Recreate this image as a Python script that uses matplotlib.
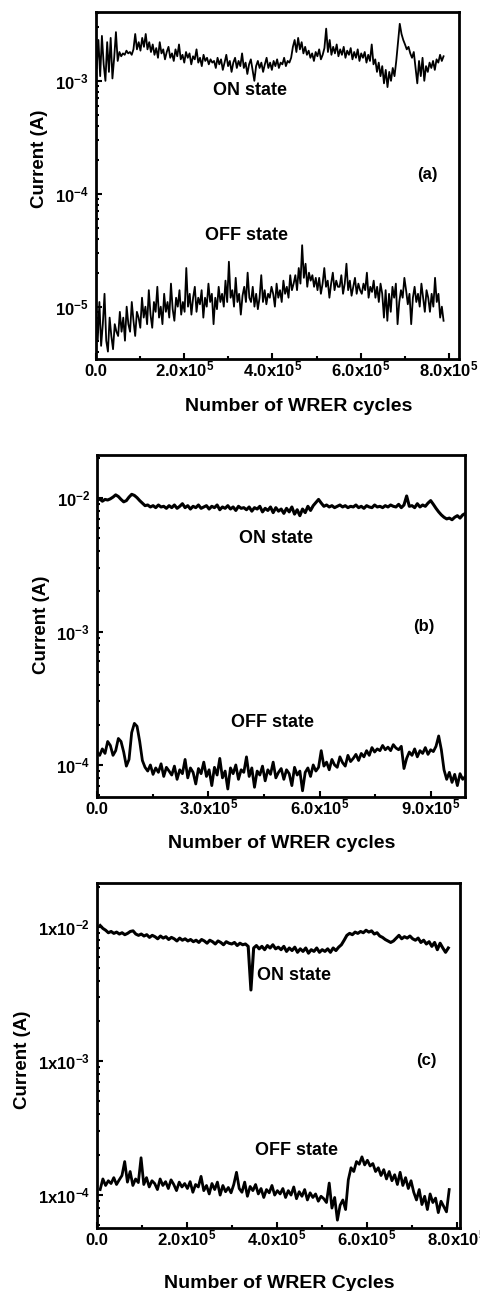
import numpy as np
import matplotlib
matplotlib.use('Agg')
import matplotlib.pyplot as plt
from matplotlib.ticker import LogLocator, NullFormatter

plt.rcParams['font.family'] = ['Liberation Sans', 'DejaVu Sans']
plt.rcParams['font.weight'] = 'bold'
plt.rcParams['mathtext.fontset'] = 'custom'
plt.rcParams['mathtext.rm'] = 'Liberation Sans:bold'
plt.rcParams['mathtext.it'] = 'Liberation Sans:bold'
plt.rcParams['mathtext.bf'] = 'Liberation Sans:bold'
plt.rcParams['mathtext.default'] = 'rm'

# ---- panel (a): currents in mA (ON) and uA (OFF) ----
a_on_span = (0.015e5, 7.88e5)
a_on_mA = [1.3, 2.3, 1.1, 2.5, 1.4, 1.0, 2.2, 1.2, 2.4, 1.05, 1.6,
           2.7, 1.5, 1.8, 1.65, 1.75, 1.7, 1.85, 1.75, 1.8, 1.7, 1.9,
           2.6, 1.9, 2.2, 1.85, 2.4, 2.0, 2.6, 1.9, 2.2,
           1.8, 2.1, 1.7, 1.95, 1.6, 2.2, 1.75, 1.9, 1.55, 1.8, 2.0, 1.6, 1.75, 1.5, 1.9, 1.65, 2.1, 1.55,
           1.7, 1.45, 1.8, 1.6, 1.75, 1.4, 1.65, 1.55, 1.9, 1.45, 1.6, 1.35, 1.7, 1.5, 1.6, 1.4, 1.55, 1.45,
           1.5, 1.3, 1.6, 1.4, 1.55, 1.25, 1.45, 1.7, 1.35, 1.5, 1.2, 1.45, 1.6, 1.3, 1.5, 1.35, 1.75, 1.3,
           1.45, 1.15, 1.4, 1.55, 1.25, 1.0, 1.35, 1.5, 1.3, 1.45, 1.2, 1.4, 1.6, 1.3, 1.45, 1.25, 1.5, 1.35,
           1.55, 1.3, 1.45, 1.4, 1.6, 1.35, 1.5, 1.45,
           1.6, 2.0, 2.3, 1.8, 2.4, 1.9, 2.2, 1.75, 2.0, 1.7,
           1.85, 1.6, 1.75, 1.5, 1.8, 1.65, 1.9, 1.55, 1.7, 1.95, 2.9,
           1.8, 2.3, 1.7, 2.0, 1.75, 2.1, 1.65, 1.9, 1.7, 2.0, 1.6, 1.85, 1.7, 1.95, 1.55, 1.8, 1.6, 1.9,
           1.5, 1.75, 1.6, 1.8, 1.45, 1.7, 1.5, 2.1, 1.4,
           1.55, 1.2, 1.45, 1.1, 1.35, 0.95, 1.25, 0.88, 1.2, 1.0, 1.3, 1.1, 1.5,
           2.2, 3.2, 2.6, 2.3, 2.1, 1.9, 2.0, 1.75, 1.6, 1.8,
           1.3, 0.95, 1.5, 1.1, 1.6, 1.0, 1.35, 1.2, 1.45, 1.3, 1.5, 1.25, 1.55, 1.45, 1.7, 1.5, 1.65]
a_off_span = (0.0, 7.88e5)
a_off_uA = [9, 5, 11, 4.5, 7, 13, 5, 4, 8, 5.5, 4.2, 7, 6,
            5.5, 9, 6, 8, 5, 10, 7, 6, 11, 7.5, 5.5, 9, 8,
            6.5, 12, 8, 10, 7, 14, 8.5, 6.5, 11, 9, 15, 8, 10,
            7, 13, 9, 11, 8, 16, 9.5, 7.5, 12, 10, 14, 8.5, 11,
            9, 22, 10, 13, 8.5, 12, 15, 9, 12, 10.5, 14, 8, 12,
            10, 16, 11, 13, 7, 12, 9.5, 15, 11, 13, 10, 17, 11,
            25, 12, 14, 10, 18, 11, 13, 8.5, 12.5, 15, 11, 20, 12,
            11, 15, 10, 13, 9.5, 12, 19, 11, 14, 10.5, 13, 12, 15,
            13, 10, 16, 12, 14, 11, 17, 13, 15, 12, 19, 14, 16,
            19, 14, 22, 16, 35, 18, 24, 15, 20, 17, 19, 15, 18,
            14, 18, 13, 16, 22, 15, 17, 12, 16, 20, 14, 17, 15,
            15, 19, 13, 16, 24, 14, 17, 12.5, 15, 18, 13, 16, 14,
            13, 16, 14, 20, 12, 15, 13.5, 17, 12, 15, 11, 16, 13,
            8, 14, 7.5, 13, 9, 15, 12, 16, 7, 11, 14, 12, 18,
            14, 10.5, 13, 7, 12, 15, 11, 13, 10, 16, 12, 9, 14,
            12, 9, 13, 10, 18, 11, 13, 8, 10, 7.5]

# ---- panel (b) ----
b_on_span = (0.0, 9.93e5)
b_on_mA = [9.6, 9.9, 9.5, 9.8, 9.7, 9.9, 10.2, 10.6, 10.3, 9.8, 9.4, 9.6, 10.2, 10.7,
           10.5, 10.1, 9.6, 9.2, 8.8, 8.9, 8.6, 8.8, 8.5, 8.9, 8.6, 8.7, 8.4, 8.8,
           8.5, 8.9, 8.4, 8.7, 9.1, 8.5, 8.8, 8.3, 8.7, 8.5, 8.9, 8.4, 8.6, 8.8,
           8.3, 8.7, 8.5, 8.9, 8.2, 8.6, 8.4, 8.8, 8.3, 8.6, 8.1, 8.7, 8.4, 8.5,
           8.2, 8.6, 8.0, 8.5, 8.3, 8.7, 7.9, 8.4, 8.1, 8.6, 7.8, 8.5, 8.0, 8.3,
           7.7, 8.4, 7.9, 8.6, 7.6, 8.2, 7.4, 8.3, 7.8, 8.7, 8.1, 8.8, 9.3, 9.8,
           9.2, 8.7, 8.9, 8.6, 8.8, 8.5, 8.7, 8.9, 8.6, 8.8, 8.5, 8.7, 8.6, 8.9,
           8.5, 8.7, 8.4, 8.8, 8.6, 8.5, 8.9, 8.6, 8.7, 8.5, 8.8, 8.6, 8.9, 8.7,
           8.6, 9.0, 8.5, 8.9, 10.4, 8.7, 8.8, 8.5, 9.1, 8.6, 8.9, 8.7, 9.2, 9.6,
           9.0, 8.4, 7.9, 7.5, 7.2, 7.0, 7.1, 6.9, 7.2, 7.4, 7.1, 7.5, 7.7]
b_off_span = (0.0, 9.93e5)
b_off_uA = [125, 118, 132, 122, 150, 140, 118, 128, 158, 150, 125, 98, 110, 175,
            205, 195, 150, 108, 96, 90, 100, 85, 95, 88, 102, 82, 96, 90,
            84, 98, 78, 92, 86, 110, 80, 95, 88, 72, 94, 86, 105, 82,
            92, 70, 96, 84, 112, 80, 90, 66, 95, 86, 100, 78, 92, 88,
            115, 82, 95, 68, 90, 84, 98, 76, 92, 85, 105, 80, 88, 94,
            78, 92, 86, 70, 96, 84, 90, 64, 88, 95, 82, 100, 90, 96,
            128, 98, 105, 92, 110, 100, 96, 115, 104, 98, 118, 106, 112, 120,
            108, 122, 115, 128, 118, 135, 125, 132, 128, 140, 130, 136, 128, 142,
            134, 130, 138, 94, 112, 125, 118, 132, 115, 128, 122, 135, 120, 130,
            126, 138, 165, 130, 92, 78, 88, 74, 85, 70, 86, 78, 82]

# ---- panel (c) ----
c_on_span = (0.07e5, 7.81e5)
c_on_mA = [10.3, 9.8, 9.5, 9.1, 9.3, 9.0, 9.2, 8.9, 9.1, 8.8, 9.0, 9.3, 9.4, 8.9, 8.7,
           8.9, 8.6, 8.8, 8.4, 8.7, 8.5, 8.2, 8.6, 8.3, 8.5, 8.1, 8.4, 8.2, 7.9, 8.3, 8.0, 8.2,
           7.9, 8.1, 7.8, 8.0, 7.7, 8.1, 7.9, 7.6, 8.0, 7.8, 7.5, 7.9, 7.7, 7.4, 7.8, 7.6, 7.5,
           7.7, 7.3, 7.6, 7.4, 7.5, 7.2,
           3.4,
           7.0, 7.3, 6.9, 7.2, 6.8, 7.3, 7.0, 7.4, 6.9, 7.1,
           6.8, 7.2, 6.6, 7.0, 6.7, 7.1, 6.5, 6.9, 6.6, 7.0, 6.4, 6.8, 6.6, 7.0, 6.5, 6.8, 6.6,
           6.9, 6.5, 7.0, 6.7, 7.1,
           7.4, 8.0, 8.7, 9.0, 8.8, 9.2, 9.0, 9.3, 9.1, 9.5, 9.2,
           9.4, 8.9, 9.1, 8.6, 8.4, 8.1, 7.9, 7.7,
           7.9, 8.3, 8.7, 8.2, 8.5, 8.3, 8.6, 8.2,
           8.0, 8.3, 7.7, 8.0, 7.5, 7.8, 7.2, 7.7, 6.8, 7.6, 7.0, 6.5, 7.0]
c_off_span = (0.07e5, 7.83e5)
c_off_uA = [110, 132, 118, 128, 122, 135, 120, 130, 140, 178, 125, 150, 118, 132, 124,
            190, 120, 135, 115, 128, 122, 110, 132, 118, 126, 112, 130, 120, 108, 125, 115, 122,
            112, 126, 105, 120, 115, 138, 108, 118, 102, 122, 110, 125, 100, 118, 106, 114, 104,
            120, 148, 112, 105, 125, 98, 116, 108, 120, 102, 112, 96, 110, 104, 118, 100, 108,
            102, 112, 96, 108, 100, 115, 94, 106, 98, 110, 92, 104, 96, 102, 90, 98, 94,
            88, 123, 80, 96, 65, 84, 92, 78,
            130, 160, 150, 178, 170, 193, 168, 182,
            165, 172, 150, 160, 140, 155, 132, 150,
            128, 142, 120, 148, 118, 135, 112, 128,
            105, 92, 110, 85, 98, 78, 102, 88, 95, 74, 90, 82, 75, 110]

W, H = 481, 1291
fig = plt.figure(figsize=(W / 100, H / 100), dpi=100)


def fx(px):
    return px / W


def fy(py):
    return 1 - py / H


def series(span, vals, scale):
    x = np.linspace(span[0], span[1], len(vals))
    return x, np.array(vals) * scale


def panel(box, xlim, ylim, xmaj, xlabs, xmin, ymaj, ylabs):
    l, t, r, b = box
    ax = fig.add_axes([fx(l), fy(b), (r - l) / W, (b - t) / H])
    ax.set_yscale('log')
    ax.set_xlim(xlim)
    ax.set_ylim(ylim)
    ax.set_xticks(xmaj, labels=xlabs)
    ax.set_xticks(xmin, minor=True)
    ax.set_yticks(ymaj, labels=ylabs)
    ax.yaxis.set_minor_locator(LogLocator(base=10, subs=np.arange(2, 10)))
    ax.yaxis.set_minor_formatter(NullFormatter())
    ax.tick_params(which='both', direction='in', top=False, right=False, width=1.5, labelsize=12)
    ax.tick_params(which='major', length=4)
    ax.tick_params(which='minor', length=2.5)
    ax.tick_params(axis='x', pad=12.5)
    ax.tick_params(axis='y', pad=5)
    for lab in ax.get_xticklabels():
        lab.set_va('baseline')
    for s in ax.spines.values():
        s.set_linewidth(2.0)
    return ax


def put(px, py, s, size, **kw):
    fig.text(fx(px), fy(py), s, fontsize=size, fontweight='bold', ha='center', va='baseline', **kw)


def ylab(px, py):
    fig.text(fx(px), fy(py), 'Current (A)', rotation=90, fontsize=13.5, fontweight='bold',
             ha='center', va='center')


# (a)
ax = panel((96, 12, 459, 359), (0, 8.23e5), (3.44e-6, 4.07e-3),
           [0, 2e5, 4e5, 6e5, 8e5],
           ['0.0', r'2.0x10$^{5}$', r'4.0x10$^{5}$', r'6.0x10$^{5}$', r'8.0x10$^{5}$'],
           [1e5, 3e5, 5e5, 7e5],
           [1e-5, 1e-4, 1e-3], [r'10$^{-5}$', r'10$^{-4}$', r'10$^{-3}$'])
x, y = series(a_on_span, a_on_mA, 1e-3)
ax.plot(x, y, color='black', lw=1.3)
x, y = series(a_off_span, a_off_uA, 1e-6)
ax.plot(x, y, color='black', lw=1.3)
put(250, 95, 'ON state', 13)
put(247, 240.5, 'OFF state', 13)
put(427, 179, '(a)', 12)
put(299, 411.5, 'Number of WRER cycles', 14)
ylab(40, 159)

# (b)
ax = panel((97, 455, 465, 797), (0, 9.92e5), (5.75e-5, 2.11e-2),
           [0, 3e5, 6e5, 9e5],
           ['0.0', r'3.0x10$^{5}$', r'6.0x10$^{5}$', r'9.0x10$^{5}$'],
           [1.5e5, 4.5e5, 7.5e5],
           [1e-4, 1e-3, 1e-2], [r'10$^{-4}$', r'10$^{-3}$', r'10$^{-2}$'])
x, y = series(b_on_span, b_on_mA, 1e-3)
ax.plot(x, y, color='black', lw=2.2)
x, y = series(b_off_span, b_off_uA, 1e-6)
ax.plot(x, y, color='black', lw=2.0)
put(276, 543, 'ON state', 13)
put(273, 726.5, 'OFF state', 13)
put(424, 631, '(b)', 12)
put(282, 848, 'Number of WRER cycles', 14)
ylab(41, 625)

# (c)
ax = panel((97, 883, 460, 1228), (0, 8.07e5), (5.68e-5, 2.14e-2),
           [0, 2e5, 4e5, 6e5, 8e5],
           ['0.0', r'2.0x10$^{5}$', r'4.0x10$^{5}$', r'6.0x10$^{5}$', r'8.0x10$^{5}$'],
           [1e5, 3e5, 5e5, 7e5],
           [1e-4, 1e-3, 1e-2], [r'1x10$^{-4}$', r'1x10$^{-3}$', r'1x10$^{-2}$'])
x, y = series(c_on_span, c_on_mA, 1e-3)
ax.plot(x, y, color='black', lw=2.2)
x, y = series(c_off_span, c_off_uA, 1e-6)
ax.plot(x, y, color='black', lw=2.0)
put(294, 980, 'ON state', 13)
put(296.5, 1155, 'OFF state', 13)
put(426, 1065, '(c)', 12)
put(279, 1288, 'Number of WRER Cycles', 14)
ylab(23, 1060)

fig.savefig('out.png', dpi=100)
